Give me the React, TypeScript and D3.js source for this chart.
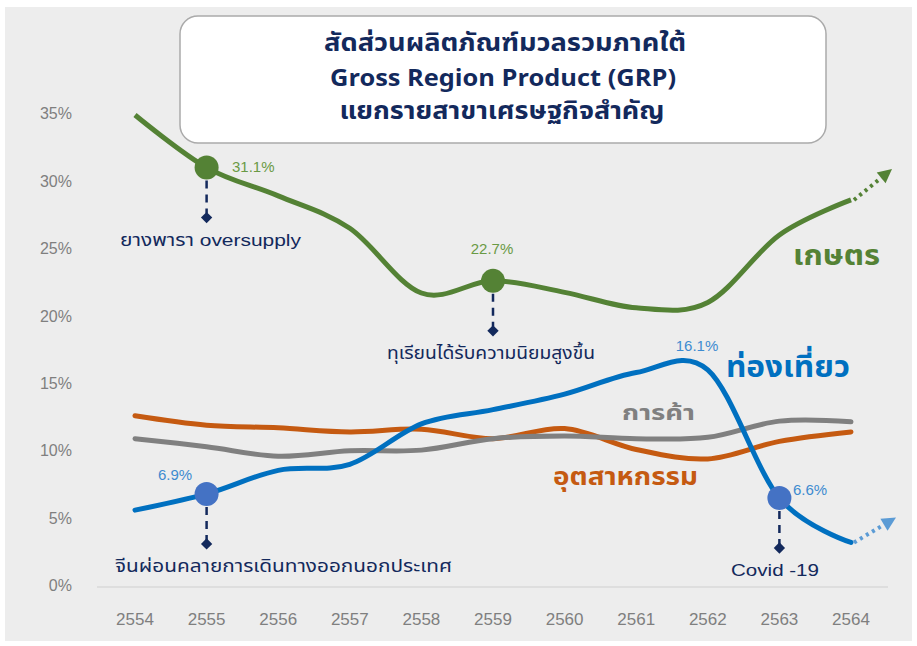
import React from "react";
import * as d3 from "d3";

const years = ["2554","2555","2556","2557","2558","2559","2560","2561","2562","2563","2564"];
const agriculture = [35.0, 31.1, 29.0, 26.6, 21.8, 22.7, 21.85, 20.7, 21.1, 26.1, 28.7];
const tourism = [5.7, 6.9, 8.65, 9.1, 12.1, 13.15, 14.3, 15.9, 16.1, 6.6, 3.3];
const trade = [11.0, 10.4, 9.7, 10.1, 10.15, 11.0, 11.2, 11.0, 11.1, 12.3, 12.25];
const industry = [12.7, 12.0, 11.8, 11.5, 11.7, 11.0, 11.75, 10.2, 9.5, 10.8, 11.5];
const yTicks = [0, 5, 10, 15, 20, 25, 30, 35];
const titleLines = ["สัดส่วนผลิตภัณฑ์มวลรวมภาคใต้", "Gross Region Product (GRP)", "แยกรายสาขาเศรษฐกิจสำคัญ"];

const W = 917, H = 646;
const x = d3.scalePoint<string>().domain(years).range([135, 851]);
const y = d3.scaleLinear().domain([0, 35]).range([587, 115]);
const line = d3.line<number>().x((_, i) => x(years[i]) as number).y(d => y(d)).curve(d3.curveCatmullRom.alpha(0));

const FONT = "'Liberation Sans', 'Noto Sans Thai', 'Noto Sans', sans-serif";
const TFONT = "'Noto Sans Thai', 'Noto Sans', sans-serif";
const NAVY = "#13295c";
const GREEN = "#548235";
const BLUE = "#0070c0";
const GRAY = "#808080";
const ORANGE = "#c55a11";

function Annotation({ yr, v, color, label, labelX, labelW, valLabel, vlx, vly, vcolor, anchor }: any) {
  const cx = x(yr) as number;
  const cy = y(v);
  return (
    <g>
      <line x1={cx} x2={cx} y1={cy + 13} y2={cy + 46} stroke={NAVY} strokeWidth={2.5} strokeDasharray="8 6" />
      <rect x={cx - 4} y={cy + 46} width={8} height={8} fill={NAVY} transform={`rotate(45 ${cx} ${cy + 50})`} />
      <circle cx={cx} cy={cy} r={12} fill={color} />
      <text x={labelX} y={cy + 78} fontSize={17} fill={NAVY} fontFamily={FONT} textLength={labelW} lengthAdjust="spacingAndGlyphs">{label}</text>
      <text x={vlx} y={vly} fontSize={15} fill={vcolor} fontFamily={FONT} textAnchor={anchor} dominantBaseline="middle">{valLabel}</text>
    </g>
  );
}

function Arrow({ data, color, dx, dy }: any) {
  const n = data.length - 1;
  const x0 = x(years[n]) as number + 3;
  const y0 = y(data[n]);
  const len = Math.hypot(dx, dy);
  const ux = dx / len, uy = dy / len;
  const tx = x0 + dx, ty = y0 + dy;
  const bx = tx - ux * 14, by = ty - uy * 14;
  const px = -uy * 7, py = ux * 7;
  return (
    <g>
      <line x1={x0} y1={y0} x2={bx} y2={by} stroke={color} strokeWidth={4} strokeDasharray="3 4" />
      <polygon points={`${tx},${ty} ${bx + px},${by + py} ${bx - px},${by - py}`} fill={color} />
    </g>
  );
}

export default function App() {
  return (
    <svg width={W} height={H} style={{ position: "absolute", left: 0, top: 0 }} fontFamily={FONT}>
      <rect x={0} y={0} width={W} height={H} fill="#ffffff" />
      <rect x={5} y={7} width={907} height={634} fill="#ededed" />
      {yTicks.map(t => (
        <text key={t} x={72} y={y(t)} textAnchor="end" dominantBaseline="middle" fontSize={16} fill="#7f7f7f">{t}%</text>
      ))}
      <line x1={97} x2={888} y1={y(0)} y2={y(0)} stroke="#d9d9d9" strokeWidth={1.5} />
      {years.map(yr => (
        <text key={yr} x={x(yr)} y={621} textAnchor="middle" dominantBaseline="middle" fontSize={17} fill="#7f7f7f">{yr}</text>
      ))}
      <rect x={180} y={16} width={646} height={127} rx={18} ry={18} fill="#ffffff" stroke="#aaaaaa" strokeWidth={1.5} />
      <g fontFamily={TFONT} fontWeight="bold" fill={NAVY} fontSize={24} textAnchor="middle">
        <text x={505} y={51} textLength={362} lengthAdjust="spacingAndGlyphs">{titleLines[0]}</text>
        <text x={503} y={86} textLength={346} lengthAdjust="spacingAndGlyphs">{titleLines[1]}</text>
        <text x={502} y={119} textLength={325} lengthAdjust="spacingAndGlyphs">{titleLines[2]}</text>
      </g>
      <path d={line(industry) as string} fill="none" stroke={ORANGE} strokeWidth={5} strokeLinecap="round" />
      <path d={line(trade) as string} fill="none" stroke={GRAY} strokeWidth={5} strokeLinecap="round" />
      <path d={line(tourism) as string} fill="none" stroke={BLUE} strokeWidth={5} strokeLinecap="round" />
      <path d={line(agriculture) as string} fill="none" stroke={GREEN} strokeWidth={5} strokeLinecap="butt" />
      <Arrow data={agriculture} color={GREEN} dx={38} dy={-31} />
      <Arrow data={tourism} color="#5b9bd5" dx={42} dy={-25} />
      <Annotation yr="2555" v={agriculture[1]} color={GREEN} label="ยางพารา oversupply" labelX={120} labelW={181}
        valLabel="31.1%" vlx={232} vly={168} vcolor="#6a9a45" anchor="start" />
      <Annotation yr="2559" v={agriculture[5]} color={GREEN} label="ทุเรียนได้รับความนิยมสูงขึ้น" labelX={387} labelW={208}
        valLabel="22.7%" vlx={492} vly={250} vcolor="#6a9a45" anchor="middle" />
      <Annotation yr="2555" v={tourism[1]} color="#4472c4" label="จีนผ่อนคลายการเดินทางออกนอกประเทศ" labelX={115} labelW={337}
        valLabel="6.9%" vlx={175} vly={476} vcolor="#3d8bd0" anchor="middle" />
      <Annotation yr="2563" v={tourism[9]} color="#4472c4" label="Covid -19" labelX={731} labelW={88}
        valLabel="6.6%" vlx={793} vly={491} vcolor="#3d8bd0" anchor="start" />
      <text x={697} y={347} textAnchor="middle" dominantBaseline="middle" fontSize={15} fill="#3d8bd0">16.1%</text>
      <g fontFamily={TFONT} fontWeight="bold">
        <text x={793} y={265} fontSize={28} fill={GREEN} textLength={87} lengthAdjust="spacingAndGlyphs">เกษตร</text>
        <text x={726} y={377} fontSize={30} fill={BLUE} textLength={124} lengthAdjust="spacingAndGlyphs">ท่องเที่ยว</text>
        <text x={622} y={420} fontSize={22} fill={GRAY} textLength={73} lengthAdjust="spacingAndGlyphs">การค้า</text>
        <text x={553} y={485} fontSize={24} fill={ORANGE} textLength={145} lengthAdjust="spacingAndGlyphs">อุตสาหกรรม</text>
      </g>
    </svg>
  );
}
